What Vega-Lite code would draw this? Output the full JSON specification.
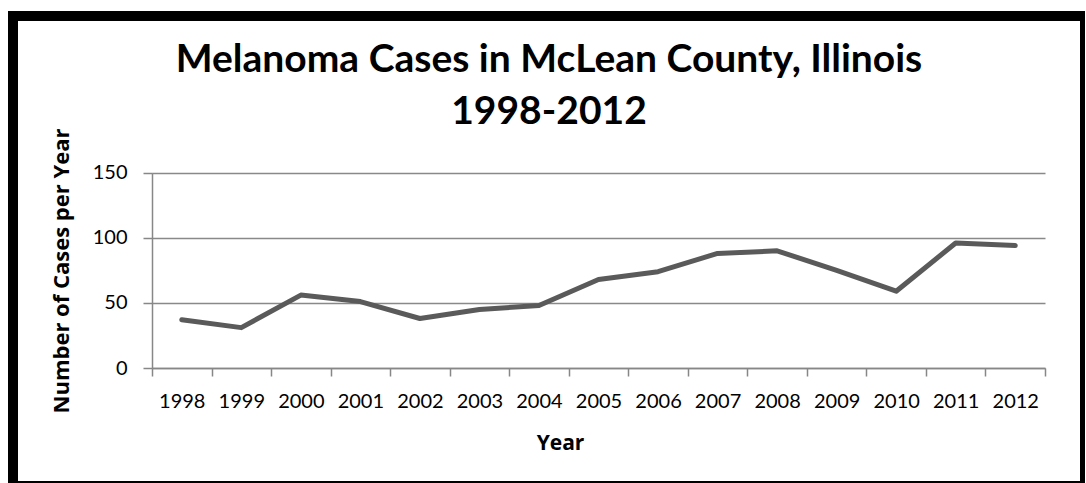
{
  "$schema": "https://vega.github.io/schema/vega-lite/v6.json",
  "autosize": {"type": "none"},
  "padding": {"left": 13, "top": 16, "right": 0, "bottom": 0},
  "width": 1072,
  "height": 470,
  "background": "white",
  "view": {"stroke": "black", "strokeWidth": 10, "fill": "white"},
  "title": {
    "text": ["Melanoma Cases in McLean County, Illinois", "1998-2012"],
    "font": "Lato",
    "fontSize": 39,
    "fontWeight": "bold",
    "color": "black",
    "anchor": "middle",
    "frame": "group",
    "baseline": "alphabetic",
    "lineHeight": 51.6,
    "offset": -147
  },
  "data": {
    "values": [
      {"Year": "1998", "Cases": 37},
      {"Year": "1999", "Cases": 31},
      {"Year": "2000", "Cases": 56},
      {"Year": "2001", "Cases": 51},
      {"Year": "2002", "Cases": 38},
      {"Year": "2003", "Cases": 45},
      {"Year": "2004", "Cases": 48},
      {"Year": "2005", "Cases": 68},
      {"Year": "2006", "Cases": 74},
      {"Year": "2007", "Cases": 88},
      {"Year": "2008", "Cases": 90},
      {"Year": "2009", "Cases": 75},
      {"Year": "2010", "Cases": 59},
      {"Year": "2011", "Cases": 96},
      {"Year": "2012", "Cases": 94}
    ]
  },
  "mark": {"type": "line", "color": "#5a5a5a", "strokeWidth": 5, "strokeCap": "round", "strokeJoin": "round"},
  "encoding": {
    "x": {
      "field": "Year",
      "type": "ordinal",
      "scale": {"type": "band", "paddingInner": 0, "paddingOuter": 0, "range": [139, 1032]},
      "axis": {
        "title": "Year",
        "offset": -118,
        "tickBand": "extent",
        "grid": false,
        "labelAngle": 0,
        "domainColor": "#878787",
        "domainWidth": 1.5,
        "tickColor": "#878787",
        "tickWidth": 1.5,
        "tickSize": 8,
        "labelPadding": 15,
        "labelFont": "Lato",
        "labelFontSize": 20,
        "labelColor": "black",
        "titleFont": "Open Sans",
        "titleFontSize": 21,
        "titleFontWeight": "bold",
        "titleColor": "black",
        "titleX": 547,
        "titleY": 81,
        "titleBaseline": "alphabetic"
      }
    },
    "y": {
      "field": "Cases",
      "type": "quantitative",
      "scale": {"domain": [0, 150], "nice": false, "range": [352, 156.7]},
      "axis": {
        "title": "Number of Cases per Year",
        "offset": -139,
        "values": [0, 50, 100, 150],
        "grid": true,
        "gridColor": "#898989",
        "gridWidth": 1.5,
        "domainColor": "#878787",
        "domainWidth": 1.5,
        "tickColor": "#878787",
        "tickWidth": 1.5,
        "tickSize": 9,
        "labelPadding": 16,
        "labelFont": "Lato",
        "labelFontSize": 20,
        "labelColor": "black",
        "titleFont": "Open Sans",
        "titleFontSize": 22,
        "titleFontWeight": "bold",
        "titleColor": "black",
        "titleX": -84,
        "titleY": 254.5,
        "titleBaseline": "alphabetic",
        "titleAngle": -90
      }
    }
  }
}
